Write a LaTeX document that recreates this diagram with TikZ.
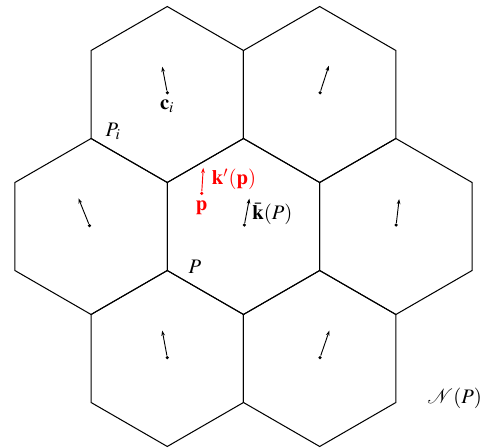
\documentclass[tikz,border=0pt]{standalone}
\usepackage{mathptmx}
\usepackage{mathrsfs}
\usetikzlibrary{arrows.meta,positioning}
\tikzset{
  cell/.style={line width=0.5pt},
  flow/.style={-{Stealth[length=2.5pt,width=1.8pt]},line width=0.45pt},
  seed/.style={circle,fill,inner sep=0pt,minimum size=1.7pt},
}
\begin{document}
\begin{tikzpicture}[x=1.5cm,y=1.5cm]
  \useasboundingbox (-2.767,-2.517) rectangle (2.756,2.574);
  \foreach \n/\cx/\cy in {0/0/0,1/-1.732/0,2/1.732/0,3/-0.866/1.5,4/0.866/1.5,5/-0.866/-1.5,6/0.866/-1.5} {
    \coordinate (C\n) at (\cx,\cy);
    \draw[cell] (C\n) +(30:1) -- +(90:1) -- +(150:1) -- +(210:1) -- +(270:1) -- +(330:1) -- cycle;
  }
  \foreach \n/\sx/\sy/\tx/\ty in {0/0.01/0.017/0.067/0.317,1/-1.75/0.01/-1.875/0.32,2/1.735/0.017/1.769/0.312,3/-0.866/1.52/-0.923/1.815,4/0.87/1.52/0.97/1.827,5/-0.866/-1.49/-0.923/-1.183,6/0.87/-1.49/0.976/-1.183} {
    \node[seed] (s\n) at (\sx,\sy) {};
    \coordinate (t\n) at (\tx,\ty);
    \draw[flow] (s\n) -- (t\n);
  }
  \node[seed,red] (p) at (-0.475,0.377) {};
  \coordinate (pt) at (-0.457,0.667);
  \draw[flow,red] (p) -- (pt) node[midway,right,xshift=1pt] (kp) {$\mathbf{k}'(\mathbf{p})$};
  \node[red,below=-1pt of p] (plab) {$\mathbf{p}$};
  \path (s0) -- (t0) node[midway,right,xshift=-1pt,yshift=-1.5pt] (kbar) {$\bar{\mathbf{k}}(P)$};
  \node[below=-1pt of s3] (ci) {$\mathbf{c}_i$};
  \node (Pi) at (-1.48,1.077) {$P_i$};
  \node (Plab) at (-0.551,-0.457) {$P$};
  \node (NP) at (2.40,-1.95) {$\mathscr{N}(P)$};
\end{tikzpicture}
\end{document}
